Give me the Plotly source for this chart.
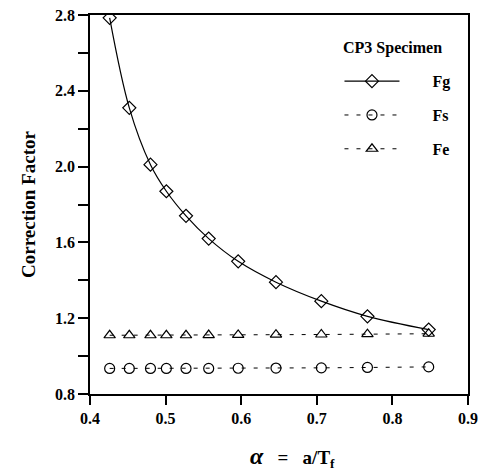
import plotly.graph_objects as go

alpha = [0.426, 0.452, 0.480, 0.501, 0.527, 0.557, 0.596, 0.646, 0.706, 0.767, 0.848]
Fg = [2.785, 2.31, 2.01, 1.87, 1.74, 1.62, 1.50, 1.39, 1.29, 1.21, 1.14]
Fs = [0.935, 0.935, 0.935, 0.935, 0.935, 0.935, 0.936, 0.937, 0.938, 0.940, 0.943]
Fe = [1.110, 1.110, 1.110, 1.110, 1.110, 1.111, 1.112, 1.113, 1.114, 1.116, 1.118]

x_ticks = [0.4, 0.5, 0.6, 0.7, 0.8, 0.9]
y_ticks = [0.8, 1.2, 1.6, 2.0, 2.4, 2.8]

FONT = "Liberation Serif"
PAD = "\u00a0" * 7

fig = go.Figure()
fig.add_trace(go.Scatter(
    x=alpha, y=Fg, name=PAD + "<b>Fg</b>", mode="lines+markers", legendgroup="g",
    line=dict(color="black", width=1.2, shape="spline"),
    marker=dict(symbol="diamond-open", size=10, color="black", line=dict(width=1.2)),
))
fig.add_trace(go.Scatter(
    x=alpha, y=Fs, name=PAD + "<b>Fs</b>", mode="lines+markers", legendgroup="s",
    line=dict(color="black", width=1, dash="4px,8px"),
    marker=dict(symbol="circle-open", size=10, color="black", line=dict(width=1.2)),
))
fig.add_trace(go.Scatter(
    x=alpha, y=Fe, name=PAD + "<b>Fe</b>", mode="lines+markers", legendgroup="e",
    line=dict(color="black", width=1, dash="4px,8px"),
    marker=dict(symbol="triangle-up-open", size=10, color="black", line=dict(width=1.2)),
))

fig.update_layout(
    width=481, height=471,
    margin=dict(l=90, r=13, t=15, b=77),
    paper_bgcolor="white", plot_bgcolor="white",
    font=dict(family=FONT, color="black", size=16),
    showlegend=True,
    legend=dict(
        x=0.66, y=0.87, xanchor="left", yanchor="top",
        font=dict(size=16, family=FONT),
        tracegroupgap=10, itemwidth=55,
        bgcolor="rgba(0,0,0,0)",
    ),
    xaxis=dict(
        range=[0.4, 0.9], tickvals=x_ticks, ticktext=[f"<b>{v:.1f}</b>" for v in x_ticks],
        ticks="outside", ticklen=9, tickwidth=1.5, tickcolor="black",
        showline=True, linecolor="black", linewidth=1.5, mirror=True,
        showgrid=False, zeroline=False, automargin=False,
        tickfont=dict(size=16, family=FONT),
    ),
    yaxis=dict(
        range=[0.8, 2.8], tickvals=y_ticks, ticktext=[f"<b>{v:.1f}</b>" for v in y_ticks],
        ticks="outside", ticklen=10, tickwidth=1.5, tickcolor="black",
        minor=dict(dtick=0.2, tick0=0.8, ticks="outside", ticklen=10, tickwidth=1.5, tickcolor="black"),
        showline=True, linecolor="black", linewidth=1.5, mirror=True,
        showgrid=False, zeroline=False, automargin=False,
        title=dict(text="<b>Correction Factor</b>", font=dict(size=19, family=FONT), standoff=14),
        tickfont=dict(size=16, family=FONT),
    ),
    annotations=[
        dict(
            text="<b><i><span style='font-size:24px'>α</span></i>\u00a0\u00a0\u00a0=\u00a0\u00a0\u00a0a/T<sub>f</sub></b>",
            xref="paper", yref="paper", x=0.535, y=0, yshift=-63,
            xanchor="center", yanchor="middle", showarrow=False,
            font=dict(size=19, family=FONT, color="black"),
        ),
        dict(
            text="<b>CP3 Specimen</b>",
            xref="paper", yref="paper", x=0.80, y=0.913,
            xanchor="center", yanchor="middle", showarrow=False,
            font=dict(size=16, family=FONT, color="black"),
        ),
    ],
)

fig.write_html("out.html", config={"displayModeBar": False},
               post_script="document.body.style.margin='0';")
